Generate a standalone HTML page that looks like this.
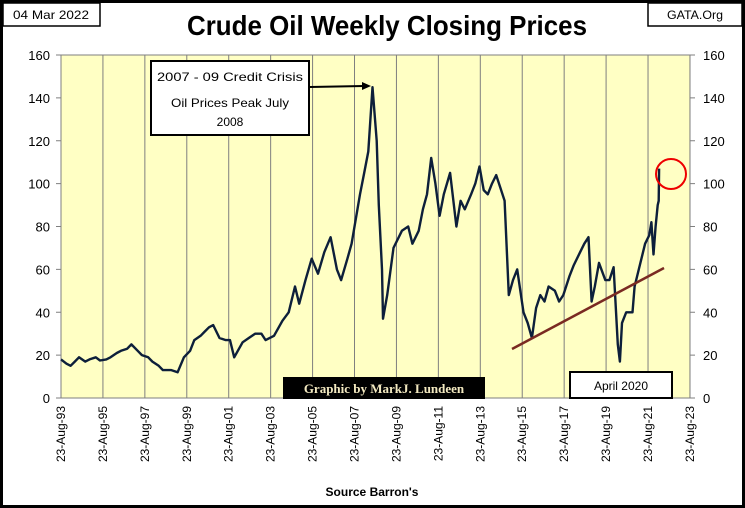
<!DOCTYPE html>
<html><head><meta charset="utf-8"><style>
body{margin:0;background:#fff}
svg{display:block;font-family:"Liberation Sans",sans-serif}
</style></head><body>
<svg id="c" width="745" height="508">
<rect x="1.5" y="1.5" width="742" height="505" fill="#fff" stroke="#000" stroke-width="3"/>
<rect x="61" y="55" width="629" height="343" fill="#ffffc4"/>
<g id="grid"></g><g id="yl"></g><g id="xl"></g>
<path id="line" fill="none" stroke="#0d1f3a" stroke-width="2.4" stroke-linejoin="round"/>
<line x1="512" y1="349" x2="664" y2="268" stroke="#7a2a22" stroke-width="2.5"/>
<circle cx="671" cy="174" r="15" fill="none" stroke="#e00" stroke-width="2"/>
<rect x="3" y="3" width="97" height="23" fill="#fff" stroke="#000" stroke-width="1.5"/>
<text x="51" y="19" font-size="12" text-anchor="middle" textLength="76" lengthAdjust="spacingAndGlyphs">04 Mar 2022</text>
<rect x="648" y="3" width="94" height="23" fill="#fff" stroke="#000" stroke-width="1.5"/>
<text x="695" y="19" font-size="12" text-anchor="middle" textLength="56" lengthAdjust="spacingAndGlyphs">GATA.Org</text>
<text x="387" y="35" font-size="28" font-weight="bold" text-anchor="middle" textLength="400" lengthAdjust="spacingAndGlyphs">Crude Oil Weekly Closing Prices</text>
<rect x="151" y="61" width="158" height="74" fill="#fff" stroke="#000" stroke-width="2"/>
<text x="230" y="81" font-size="12" text-anchor="middle" textLength="146" lengthAdjust="spacingAndGlyphs">2007  - 09 Credit Crisis</text>
<text x="230" y="107" font-size="12" text-anchor="middle" textLength="118" lengthAdjust="spacingAndGlyphs">Oil Prices Peak July</text>
<text x="230" y="126" font-size="12" text-anchor="middle">2008</text>
<line x1="310" y1="87" x2="364" y2="86" stroke="#000" stroke-width="2"/>
<polygon points="371,86 362,82 362,90" fill="#000"/>
<rect x="283" y="377" width="202" height="22" fill="#000"/>
<text x="384" y="393" font-size="13" font-weight="bold" fill="#f3e9c0" text-anchor="middle" font-family="Liberation Serif,serif">Graphic by MarkJ. Lundeen</text>
<rect x="570" y="372" width="102" height="26" fill="#fff" stroke="#000" stroke-width="2"/>
<text x="621" y="390" font-size="12" text-anchor="middle">April 2020</text>
<text x="372" y="496" font-size="12" font-weight="bold" text-anchor="middle">Source Barron's</text>
</svg>
<script>
const yTicks=[0,20,40,60,80,100,120,140,160];
const xTickLabels=["23-Aug-93","23-Aug-95","23-Aug-97","23-Aug-99","23-Aug-01","23-Aug-03","23-Aug-05","23-Aug-07","23-Aug-09","23-Aug-11","23-Aug-13","23-Aug-15","23-Aug-17","23-Aug-19","23-Aug-21","23-Aug-23"];
const years=[1993.64,1993.9,1994.1,1994.3,1994.5,1994.8,1995,1995.3,1995.5,1995.8,1996,1996.3,1996.5,1996.8,1997,1997.3,1997.5,1997.8,1998,1998.3,1998.5,1998.9,1999.2,1999.5,1999.8,2000,2000.3,2000.5,2000.7,2000.9,2001.2,2001.5,2001.7,2001.9,2002.3,2002.6,2002.9,2003.2,2003.4,2003.8,2004.2,2004.5,2004.8,2005,2005.3,2005.6,2005.9,2006.2,2006.5,2006.8,2007,2007.3,2007.5,2007.9,2008.1,2008.3,2008.5,2008.7,2008.8,2008.95,2009.0,2009.2,2009.5,2009.9,2010.2,2010.4,2010.7,2010.9,2011.1,2011.3,2011.5,2011.7,2011.9,2012.2,2012.5,2012.7,2012.9,2013.2,2013.4,2013.6,2013.8,2014.0,2014.2,2014.4,2014.6,2014.8,2015.0,2015.2,2015.4,2015.7,2015.9,2016.1,2016.3,2016.5,2016.7,2016.9,2017.2,2017.4,2017.6,2017.9,2018.1,2018.4,2018.6,2018.8,2018.95,2019.1,2019.3,2019.6,2019.8,2020.0,2020.2,2020.3,2020.4,2020.6,2020.7,2020.9,2021.0,2021.2,2021.5,2021.7,2021.8,2021.9,2022.0,2022.1,2022.15,2022.17];
const prices=[18,16,15,17,19,17,18,19,17.5,18,19,21,22,23,25,22,20,19,17,15,13,13,12,19,22,27,29,31,33,34,28,27,27,19,26,28,30,30,27,29,36,40,52,44,55,65,58,68,75,60,55,65,72,95,105,115,145,120,90,60,37,48,70,78,80,72,78,88,95,112,100,85,95,105,80,92,88,95,100,108,97,95,100,104,98,92,48,55,60,40,35,28,42,48,45,52,50,45,48,57,62,68,72,75,45,52,63,55,55,61,25,17,35,40,40,40,52,60,72,76,82,67,80,90,92,107];
const X=y=>61+(y-1993.64)/2*41.93, Y=v=>398-v*343/160;
const ns="http://www.w3.org/2000/svg";
const g=document.getElementById('grid'),yl=document.getElementById('yl'),xl=document.getElementById('xl');
function mk(t,a,p){const e=document.createElementNS(ns,t);for(const k in a)e.setAttribute(k,a[k]);p.appendChild(e);return e;}
xTickLabels.forEach((l,i)=>{const x=X(1993.64+2*i);
 const gl=mk('line',{x1:x,y1:55,x2:x,y2:398,stroke:'#7f7f7f','stroke-width':1},g);
 
 
 const t=mk('text',{x:0,y:0,'font-size':12,'text-anchor':'end',transform:`translate(${x+4},406) rotate(-90)`},xl);
 
 
 t.textContent=l;});
yTicks.forEach(v=>{const y=Y(v);
 mk('line',{x1:56,y1:y,x2:61,y2:y,stroke:'#7f7f7f'},g);mk('line',{x1:690,y1:y,x2:695,y2:y,stroke:'#7f7f7f'},g);
 const a=mk('text',{x:50,y:y+5,'font-size':13,'text-anchor':'end'},yl);
 
 
 a.textContent=v;
 const b=mk('text',{x:703,y:y+5,'font-size':13},yl);
 
 
 b.textContent=v;});
mk('rect',{x:61,y:55,width:629,height:343,fill:'none',stroke:'#7f7f7f'},g);
document.getElementById('line').setAttribute('d',years.map((y,i)=>(i?'L':'M')+X(y).toFixed(1)+','+Y(prices[i]).toFixed(1)).join(''));
</script>
</body></html>
